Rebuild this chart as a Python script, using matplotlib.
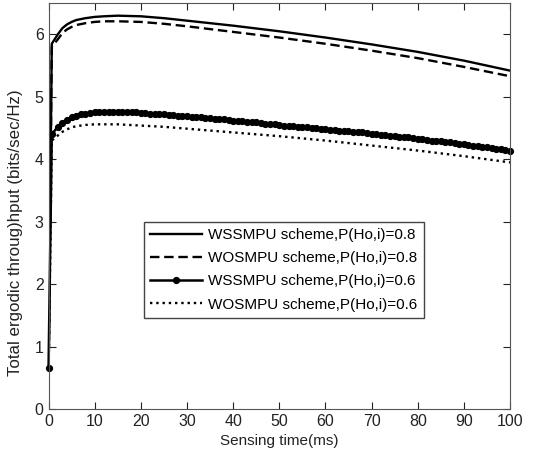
import numpy as np
import matplotlib
matplotlib.use('Agg')
import matplotlib.pyplot as plt

plt.rcParams['font.family'] = ['Liberation Sans', 'DejaVu Sans']

# coarse grid for the plain line curves
t_line = [0, 0.7, 2, 3, 4, 5, 6, 8, 10, 12, 15, 20, 25, 30, 40, 50, 60, 70, 80, 90, 100]
ws_08 = [0.45, 5.85, 6.00, 6.10, 6.16, 6.20, 6.23, 6.26, 6.28, 6.29, 6.30, 6.29, 6.26,
         6.22, 6.14, 6.05, 5.95, 5.84, 5.72, 5.58, 5.42]
wo_08 = [0.45, 5.80, 5.92, 6.02, 6.08, 6.12, 6.15, 6.18, 6.20, 6.21, 6.21, 6.20, 6.17,
         6.13, 6.04, 5.95, 5.85, 5.74, 5.62, 5.48, 5.33]
wo_06 = [0.50, 4.30, 4.38, 4.44, 4.48, 4.51, 4.53, 4.55, 4.56, 4.56, 4.56, 4.54, 4.52,
         4.49, 4.43, 4.37, 4.30, 4.22, 4.14, 4.05, 3.95]

# 1 ms grid for the marker curve (first two samples near the origin)
t_mark = [0, 0.7] + list(range(2, 101))
ws_06 = [0.65, 4.40, 4.52, 4.58, 4.63, 4.67, 4.70, 4.72, 4.73, 4.74,
         4.75, 4.76, 4.76, 4.76, 4.76, 4.76, 4.76, 4.75, 4.75, 4.75,
         4.74, 4.74, 4.73, 4.73, 4.72, 4.72, 4.71, 4.71, 4.70, 4.70,
         4.69, 4.68, 4.68, 4.67, 4.66, 4.66, 4.65, 4.64, 4.64, 4.63,
         4.62, 4.61, 4.61, 4.60, 4.59, 4.59, 4.58, 4.57, 4.57, 4.56,
         4.55, 4.54, 4.54, 4.53, 4.52, 4.52, 4.51, 4.50, 4.50, 4.49,
         4.48, 4.47, 4.47, 4.46, 4.45, 4.45, 4.44, 4.43, 4.43, 4.42,
         4.41, 4.40, 4.39, 4.39, 4.38, 4.37, 4.36, 4.36, 4.35, 4.34,
         4.33, 4.32, 4.31, 4.30, 4.29, 4.29, 4.28, 4.27, 4.26, 4.25,
         4.24, 4.23, 4.22, 4.21, 4.20, 4.19, 4.18, 4.17, 4.16, 4.15, 4.13]

labels = ['WSSMPU scheme,P(Ho,i)=0.8',
          'WOSMPU scheme,P(Ho,i)=0.8',
          'WSSMPU scheme,P(Ho,i)=0.6',
          'WOSMPU scheme,P(Ho,i)=0.6']

fig = plt.figure(figsize=(5.58, 4.55), dpi=100)
ax = fig.add_axes([0.087, 0.101, 0.827, 0.892])

ax.plot(t_line, ws_08, '-', color='black', lw=1.7, label=labels[0])
ax.plot(t_line, wo_08, '--', color='black', lw=1.7, dashes=(4, 2), label=labels[1])
ax.plot(t_mark, ws_06, '-', color='black', lw=1.8, marker='o', ms=4.2, label=labels[2],
        clip_on=False)
ax.plot(t_line, wo_06, ':', color='black', lw=1.7, label=labels[3])

ax.set_xlim(0, 100)
ax.set_ylim(0, 6.5)
ax.set_xticks(np.arange(0, 101, 10))
ax.set_yticks(np.arange(0, 7, 1))
ax.tick_params(direction='in', top=True, right=True, labelsize=11.5, colors='#222222', length=5)
for s in ax.spines.values():
    s.set_color('#555555')

ax.set_xlabel('Sensing time(ms)', fontsize=11, color='#222222', labelpad=4)
ax.set_ylabel('Total ergodic throug)hput (bits/sec/Hz)', fontsize=12.2, color='#222222')
ax.yaxis.set_label_coords(-0.055, 0.435)

leg = ax.legend(loc='upper left', bbox_to_anchor=(0.207, 0.461), fontsize=11,
                handlelength=3.4, handletextpad=0.4, borderaxespad=0, fancybox=False,
                edgecolor='#444444', framealpha=1, labelspacing=0.6)
leg.get_frame().set_linewidth(1.0)

fig.savefig('out.png', dpi=100)
